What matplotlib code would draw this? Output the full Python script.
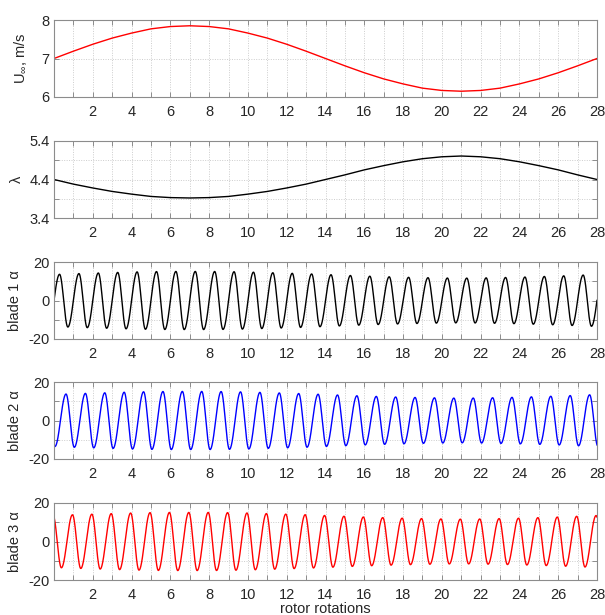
import numpy as np
import matplotlib
matplotlib.use("Agg")
import matplotlib.pyplot as plt

# ---------------- data ----------------
rotations = np.arange(0, 29)  # 0 .. 28 rotor rotations

# free-stream velocity U_inf (m/s) at each integer rotation
u_inf = [7.00, 7.19, 7.37, 7.53, 7.66, 7.77, 7.83, 7.85, 7.83, 7.77,
         7.66, 7.53, 7.37, 7.19, 7.00, 6.81, 6.63, 6.47, 6.34, 6.23,
         6.17, 6.15, 6.17, 6.23, 6.34, 6.47, 6.63, 6.81, 7.00]

# tip speed ratio lambda at each integer rotation
tsr = [4.40, 4.28, 4.18, 4.09, 4.02, 3.96, 3.93, 3.92, 3.93, 3.96,
       4.02, 4.09, 4.18, 4.28, 4.40, 4.52, 4.65, 4.76, 4.86, 4.94,
       4.99, 5.01, 4.99, 4.94, 4.86, 4.76, 4.65, 4.52, 4.40]

# angle-of-attack peak amplitude (deg) envelope at each integer rotation
alpha_amp = [13.5, 13.9, 14.2, 14.5, 14.8, 15.0, 15.1, 15.1, 15.1, 15.0,
             14.8, 14.5, 14.2, 13.9, 13.5, 13.1, 12.7, 12.4, 12.1, 11.9,
             11.7, 11.6, 11.7, 11.9, 12.1, 12.4, 12.7, 13.1, 13.5]

# within one rotation: fraction where blade-1 alpha peaks / troughs
peak_frac = 0.286
trough_frac = 0.714
# phase lead of each blade relative to blade 1 (in rotations)
blade_lead = [0.0, -1.0 / 3.0, 1.0 / 3.0]
blade_names = ["blade 1 \u03b1", "blade 2 \u03b1", "blade 3 \u03b1"]
blade_colors = ["black", "blue", "red"]

x_ticklabels = [str(v) if (v % 2 == 0 and v > 0) else "" for v in range(0, 29)]

# ---------------- helpers ----------------
def blade_alpha(x, lead):
    times, vals = [], []
    for k in range(-2, 31):
        tp = k + peak_frac - lead
        tt = k + trough_frac - lead
        times += [tp, tt]
        vals += [np.interp(tp, rotations, alpha_amp),
                 -np.interp(tt, rotations, alpha_amp)]
    order = np.argsort(times)
    times = np.array(times)[order]
    vals = np.array(vals)[order]
    idx = np.clip(np.searchsorted(times, x) - 1, 0, len(times) - 2)
    t0, t1 = times[idx], times[idx + 1]
    v0, v1 = vals[idx], vals[idx + 1]
    u = (x - t0) / (t1 - t0)
    return v0 + (v1 - v0) * (1 - np.cos(np.pi * u)) / 2


plt.rcParams["font.family"] = ["Liberation Sans", "DejaVu Sans"]
plt.rcParams["mathtext.fontset"] = "custom"
plt.rcParams["mathtext.rm"] = "Liberation Sans"
plt.rcParams["mathtext.it"] = "Liberation Sans"

W, H = 605, 615
fig = plt.figure(figsize=(W / 100, H / 100), dpi=100)

left, right = 54, 597
tops = [20, 141, 262, 382, 503]
ah = 77

axes = []
for t in tops:
    ax = fig.add_axes([left / W, 1 - (t + ah) / H, (right - left) / W, ah / H])
    axes.append(ax)

xd = np.linspace(0, 28, 6000)

FS = 10.5

panels = [
    dict(y=u_inf, color="red", lim=(6, 8), ticks=[6, 7, 8], labels=["6", "7", "8"],
         ylabel="U$_{\\infty}$, m/s", lx=-0.046),
    dict(y=tsr, color="black", lim=(3.4, 5.4), ticks=[3.4, 3.9, 4.4, 4.9, 5.4],
         labels=["3.4", "", "4.4", "", "5.4"], ylabel="\u03bb", lx=-0.056),
]

spine_col = "#8c8c8c"
txt_col = "#262626"

def style(ax):
    ax.set_xlim(0, 28)
    ax.set_xticks(rotations)
    ax.set_xticklabels(x_ticklabels)
    ax.tick_params(direction="in", length=3.5, width=0.7, color=spine_col,
                   labelsize=FS, labelcolor=txt_col, top=True, right=True, pad=3)
    ax.tick_params(axis="x", pad=5.5)
    for s in ax.spines.values():
        s.set_color(spine_col)
        s.set_linewidth(0.8)
    ax.grid(True, color="#cccccc", linestyle=(0, (1, 1.5)), linewidth=0.7)
    ax.set_axisbelow(True)

for ax, p in zip(axes[:2], panels):
    ax.plot(rotations, p["y"], color=p["color"], lw=1.0)
    ax.set_ylim(*p["lim"])
    ax.set_yticks(p["ticks"])
    ax.set_yticklabels(p["labels"])
    ax.set_ylabel(p["ylabel"], fontsize=FS, color=txt_col)
    ax.yaxis.set_label_coords(p["lx"], 0.5)
    style(ax)

for ax, lead, name, col in zip(axes[2:], blade_lead, blade_names, blade_colors):
    ax.plot(xd, blade_alpha(xd, lead), color=col, lw=1.0)
    ax.set_ylim(-20, 20)
    ax.set_yticks([-20, -10, 0, 10, 20])
    ax.set_yticklabels(["-20", "", "0", "", "20"])
    ax.set_ylabel(name, fontsize=FS, color=txt_col)
    ax.yaxis.set_label_coords(-0.059, 0.5)
    style(ax)

axes[-1].set_xlabel("rotor rotations", fontsize=FS, color=txt_col, labelpad=0)

fig.savefig("out.png", dpi=100)
